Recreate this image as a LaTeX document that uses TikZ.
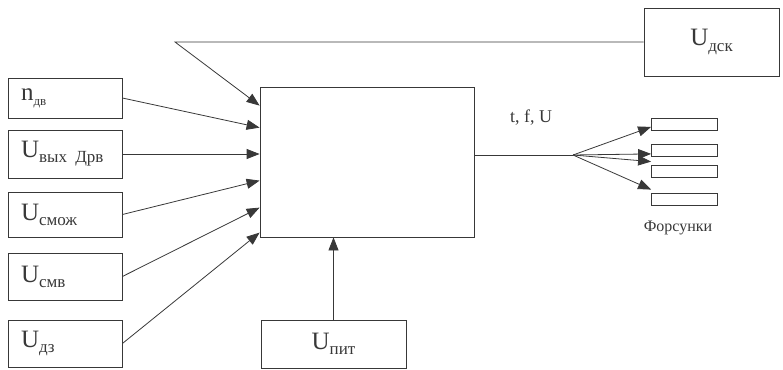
\documentclass[tikz,border=0pt]{standalone}
\usepackage{fontspec}
\setmainfont{Liberation Serif}
\usetikzlibrary{arrows.meta, calc, positioning}

\newcommand{\sig}[2]{#1\raisebox{-0.45ex}{\fontsize{17}{17}\selectfont #2}}

\begin{document}
\begin{tikzpicture}[x=1pt, y=-1pt, line width=0.8pt, color=black!78,
    >={Triangle[length=13pt, width=10pt]},
    sensor/.style={draw, minimum width=114pt, text width=88pt, inner xsep=13pt,
        align=left, font=\fontsize{25}{28}\selectfont},
    blk/.style={draw, inner sep=0pt, font=\fontsize{25}{28}\selectfont},
    inj/.style={draw, minimum width=66pt, minimum height=12pt, inner sep=0pt}]
    \useasboundingbox (0,0) rectangle (783,369);

    % датчики
    \node[sensor, minimum height=40pt] (ndv)    at (65,98)    {n\raisebox{-0.45ex}{\fontsize{13}{13}\selectfont дв}};
    \node[sensor, minimum height=48pt] (uvyx)   at (65,154)   {\sig{U}{вых Дрв}};
    \node[sensor, minimum height=45pt] (usmozh) at (65,214.5) {\sig{U}{смож}};
    \node[sensor, minimum height=47pt] (usmv)   at (65,276.5) {\sig{U}{смв}};
    \node[sensor, minimum height=47pt] (udz)    at (65,343.5) {\sig{U}{дз}};

    % блок управления
    \node[blk, minimum width=214pt, minimum height=150pt] (main) at (367,162) {};
    \node[blk, minimum width=135pt, minimum height=68pt] (udsk) at (711.5,42) {\sig{U}{дск}};
    \node[blk, minimum width=145pt, minimum height=48pt] (upit) at (333.5,344) {\sig{U}{пит}};

    % форсунки
    \node[inj] (inj1) at (684.5,124.5) {};
    \node[inj] (inj2) at (684.5,150.5) {};
    \node[inj] (inj3) at (684.5,171) {};
    \node[inj] (inj4) at (684.5,199) {};
    \node[font=\fontsize{16}{19}\selectfont] (forsunki) at (678,228) {Форсунки};

    % входы
    \coordinate (bend) at (175,42);
    \draw[->] (udsk.west) -- (bend) -- ($(main.north west)+(0,19)$);
    \draw[->] (ndv.east)    -- ($(main.north west)+(0,41)$);
    \draw[->] (uvyx.east)   -- (uvyx.east -| main.west);
    \draw[->] (usmozh.east) -- ($(main.north west)+(0,94)$);
    \draw[->] (usmv.east)   -- ($(main.north west)+(0,121)$);
    \draw[->] (udz.east)    -- ($(main.north west)+(0,146)$);
    \draw[->] (upit.north)  -- (upit.north |- main.south);

    % выход
    \coordinate (fan) at (573,155);
    \draw (main.east |- fan) -- (fan);
    \node[font=\fontsize{18}{21}\selectfont] (tfu) at (531,118) {t, f, U};
    \draw[->] (fan) -- ($(inj1.south west)+(0,-4)$);
    \draw[->] (fan) -- ($(inj2.south west)+(0,-3)$);
    \draw[->] (fan) -- ($(inj3.north west)+(0,-3)$);
    \draw[->] (fan) -- ($(inj4.north west)+(0,-3)$);
\end{tikzpicture}
\end{document}
